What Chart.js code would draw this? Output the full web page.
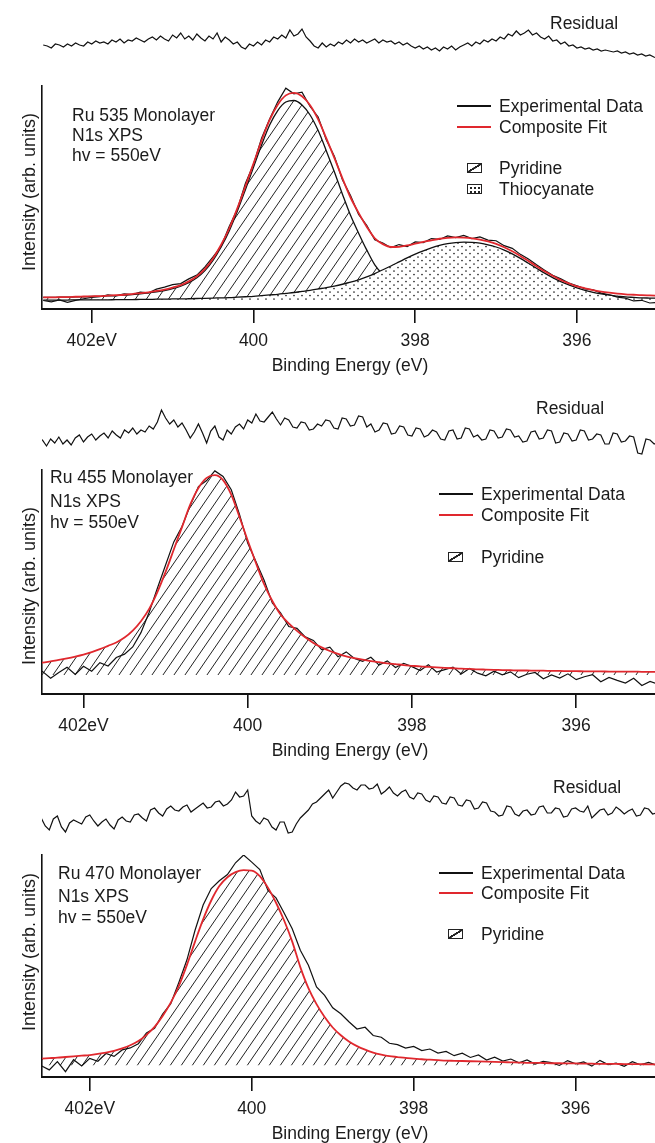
<!DOCTYPE html>
<html>
<head>
<meta charset="utf-8">
<script src="https://cdn.jsdelivr.net/npm/chart.js@4.4.1/dist/chart.umd.min.js"></script>
<style>
  body { margin: 0; background: #fff; }
  #page { position: relative; width: 655px; height: 1143px; overflow: hidden; font-family: 'Liberation Sans', Arial, sans-serif; color: #1b1b1b; }
  canvas { position: absolute; left: 0; }
  .t { position: absolute; font-size: 17.5px; line-height: 20px; white-space: nowrap; }
  .ln { position: absolute; width: 34px; height: 2px; }
  .box { position: absolute; width: 15px; height: 10px; border: 1.5px solid #222; box-sizing: border-box; background: #fff; }
  .hbox { background: linear-gradient(to bottom right, transparent 42%, #222 44%, #222 56%, transparent 58%); }
  .dbox { background-color: #fff; background-image: radial-gradient(circle, #222 0.9px, transparent 1.3px); background-size: 4px 4px; background-position: 1px 1px; }
  .yt { position: absolute; width: 220px; text-align: center; transform: rotate(-90deg); font-size: 18px; line-height: 20px; white-space: nowrap; }
  .xt { position: absolute; left: 200px; width: 300px; text-align: center; font-size: 17.5px; line-height: 20px; }
</style>
</head>
<body>
<div id="page">
  <canvas id="res535" width="655" height="60" style="top:15px"></canvas>
  <canvas id="main535" width="655" height="279" style="top:80px"></canvas>
  <canvas id="res455" width="655" height="60" style="top:406px"></canvas>
  <canvas id="main455" width="655" height="280" style="top:464px"></canvas>
  <canvas id="res470" width="655" height="60" style="top:782px"></canvas>
  <canvas id="main470" width="655" height="278" style="top:849px"></canvas>

  <!-- panel 1 -->
  <div class="t" style="left:550px;top:13px">Residual</div>
  <div class="t" style="left:72px;top:105px">Ru 535 Monolayer</div>
  <div class="t" style="left:72px;top:125px">N1s XPS</div>
  <div class="t" style="left:72px;top:145px">hv = 550eV</div>
  <div class="ln" style="left:457px;top:105px;background:#111"></div>
  <div class="t" style="left:499px;top:96px">Experimental Data</div>
  <div class="ln" style="left:457px;top:126px;background:#e0282e"></div>
  <div class="t" style="left:499px;top:117px">Composite Fit</div>
  <div class="box hbox" style="left:467px;top:163px"></div>
  <div class="t" style="left:499px;top:158px">Pyridine</div>
  <div class="box dbox" style="left:467px;top:184px"></div>
  <div class="t" style="left:499px;top:179px">Thiocyanate</div>
  <div class="yt" style="left:-81px;top:182px">Intensity (arb. units)</div>
  <div class="xt" style="top:355px">Binding Energy (eV)</div>

  <!-- panel 2 -->
  <div class="t" style="left:536px;top:398px">Residual</div>
  <div class="t" style="left:50px;top:467px">Ru 455 Monolayer</div>
  <div class="t" style="left:50px;top:491px">N1s XPS</div>
  <div class="t" style="left:50px;top:512px">hv = 550eV</div>
  <div class="ln" style="left:439px;top:493px;background:#111"></div>
  <div class="t" style="left:481px;top:484px">Experimental Data</div>
  <div class="ln" style="left:439px;top:514px;background:#e0282e"></div>
  <div class="t" style="left:481px;top:505px">Composite Fit</div>
  <div class="box hbox" style="left:448px;top:552px"></div>
  <div class="t" style="left:481px;top:547px">Pyridine</div>
  <div class="yt" style="left:-81px;top:576px">Intensity (arb. units)</div>
  <div class="xt" style="top:740px">Binding Energy (eV)</div>

  <!-- panel 3 -->
  <div class="t" style="left:553px;top:777px">Residual</div>
  <div class="t" style="left:58px;top:863px">Ru 470 Monolayer</div>
  <div class="t" style="left:58px;top:886px">N1s XPS</div>
  <div class="t" style="left:58px;top:907px">hv = 550eV</div>
  <div class="ln" style="left:439px;top:872px;background:#111"></div>
  <div class="t" style="left:481px;top:863px">Experimental Data</div>
  <div class="ln" style="left:439px;top:892px;background:#e0282e"></div>
  <div class="t" style="left:481px;top:883px">Composite Fit</div>
  <div class="box hbox" style="left:448px;top:929px"></div>
  <div class="t" style="left:481px;top:924px">Pyridine</div>
  <div class="yt" style="left:-81px;top:942px">Intensity (arb. units)</div>
  <div class="xt" style="top:1123px">Binding Energy (eV)</div>
</div>

<script>
// binding energy grid (eV) for the spectra and fits
const energy = [
  402.6, 402.5, 402.4, 402.3, 402.2, 402.1, 402.0, 401.9, 401.8, 401.7,
  401.6, 401.5, 401.4, 401.3, 401.2, 401.1, 401.0, 400.9, 400.8, 400.7,
  400.6, 400.5, 400.4, 400.3, 400.2, 400.1, 400.0, 399.9, 399.8, 399.7,
  399.6, 399.5, 399.4, 399.3, 399.2, 399.1, 399.0, 398.9, 398.8, 398.7,
  398.6, 398.5, 398.4, 398.3, 398.2, 398.1, 398.0, 397.9, 397.8, 397.7,
  397.6, 397.5, 397.4, 397.3, 397.2, 397.1, 397.0, 396.9, 396.8, 396.7,
  396.6, 396.5, 396.4, 396.3, 396.2, 396.1, 396.0, 395.9, 395.8, 395.7,
  395.6, 395.5, 395.4, 395.3, 395.2, 395.1, 395.0
];
// finer grid (eV) for the residual traces
const energyFine = [
  402.6, 402.55, 402.5, 402.45, 402.4, 402.35, 402.3, 402.25, 402.2, 402.15,
  402.1, 402.05, 402.0, 401.95, 401.9, 401.85, 401.8, 401.75, 401.7, 401.65,
  401.6, 401.55, 401.5, 401.45, 401.4, 401.35, 401.3, 401.25, 401.2, 401.15,
  401.1, 401.05, 401.0, 400.95, 400.9, 400.85, 400.8, 400.75, 400.7, 400.65,
  400.6, 400.55, 400.5, 400.45, 400.4, 400.35, 400.3, 400.25, 400.2, 400.15,
  400.1, 400.05, 400.0, 399.95, 399.9, 399.85, 399.8, 399.75, 399.7, 399.65,
  399.6, 399.55, 399.5, 399.45, 399.4, 399.35, 399.3, 399.25, 399.2, 399.15,
  399.1, 399.05, 399.0, 398.95, 398.9, 398.85, 398.8, 398.75, 398.7, 398.65,
  398.6, 398.55, 398.5, 398.45, 398.4, 398.35, 398.3, 398.25, 398.2, 398.15,
  398.1, 398.05, 398.0, 397.95, 397.9, 397.85, 397.8, 397.75, 397.7, 397.65,
  397.6, 397.55, 397.5, 397.45, 397.4, 397.35, 397.3, 397.25, 397.2, 397.15,
  397.1, 397.05, 397.0, 396.95, 396.9, 396.85, 396.8, 396.75, 396.7, 396.65,
  396.6, 396.55, 396.5, 396.45, 396.4, 396.35, 396.3, 396.25, 396.2, 396.15,
  396.1, 396.05, 396.0, 395.95, 395.9, 395.85, 395.8, 395.75, 395.7, 395.65,
  395.6, 395.55, 395.5, 395.45, 395.4, 395.35, 395.3, 395.25, 395.2, 395.15,
  395.1, 395.05, 395.0
];
const tickValues = [402, 400, 398, 396];

// Ru 535
const data535 = [
  3.8, 3.2, 4.1, 3.0, 3.9, 4.6, 5.2, 5.5, 6.3, 5.9,
  6.8, 6.5, 7.6, 7.2, 8.9, 9.8, 10.9, 11.4, 13.5, 15.2,
  18.9, 23.4, 28.1, 37.0, 44.6, 56.3, 64.8, 76.6, 85.2, 92.9,
  99.0, 96.5, 97.2, 90.8, 86.1, 75.9, 68.5, 58.0, 50.9, 42.4,
  37.5, 31.0, 29.6, 27.5, 28.9, 28.0, 30.1, 29.8, 31.6, 31.2,
  32.8, 32.0, 33.0, 31.6, 32.3, 30.9, 30.6, 28.4, 27.2, 24.5,
  22.4, 19.8, 17.4, 15.1, 13.5, 11.6, 10.4, 9.0, 8.6, 7.1,
  6.4, 5.3, 4.9, 3.6, 3.9, 2.7, 3.0
];
const fit535 = [
  5.2, 5.2, 5.3, 5.3, 5.5, 5.6, 5.7, 5.8, 6.0, 6.2,
  6.4, 6.7, 7.1, 7.5, 8.1, 8.7, 9.6, 10.7, 12.4, 14.7,
  18.0, 22.7, 28.8, 36.1, 45.1, 55.0, 65.2, 75.5, 84.8, 91.6,
  95.8, 96.9, 95.4, 91.4, 85.0, 76.6, 67.8, 58.6, 50.0, 43.1,
  36.9, 31.7, 29.1, 27.8, 27.9, 28.5, 29.3, 30.1, 30.8, 31.5,
  31.9, 32.1, 32.0, 31.7, 31.1, 30.3, 29.2, 27.7, 25.9, 23.8,
  21.5, 19.2, 16.9, 14.9, 13.0, 11.5, 10.1, 9.3, 8.5, 7.8,
  7.3, 6.9, 6.6, 6.4, 6.2, 6.1, 6.0
];
const pyridine535 = [
  5.2, 5.2, 5.3, 5.3, 5.4, 5.5, 5.6, 5.7, 5.9, 6.0,
  6.2, 6.5, 6.8, 7.2, 7.7, 8.3, 9.1, 10.2, 11.8, 14.0,
  17.2, 21.8, 27.8, 35.0, 43.8, 53.5, 63.5, 73.5, 82.5, 89.0,
  92.8, 93.5, 91.5, 87.0, 80.0, 71.0, 61.5, 51.5, 42.0, 34.0,
  26.5, 19.8, 15.5, 12.5, 10.8, 9.6, 8.7, 8.0, 7.4, 7.0,
  6.6, 6.3, 6.0, 5.8, 5.6, 5.5, 5.4, 5.3, 5.2, 5.1,
  5.0, 4.9, 4.8, 4.8, 4.7, 4.7, 4.6, 4.6, 4.6, 4.5,
  4.5, 4.5, 4.5, 4.4, 4.4, 4.4, 4.4
];
const thiocyanate535 = [
  4.0, 4.0, 4.0, 4.0, 4.1, 4.1, 4.1, 4.1, 4.1, 4.2,
  4.2, 4.2, 4.3, 4.3, 4.4, 4.4, 4.5, 4.5, 4.6, 4.7,
  4.8, 4.9, 5.0, 5.1, 5.3, 5.5, 5.7, 6.0, 6.3, 6.6,
  7.0, 7.4, 7.9, 8.4, 9.0, 9.6, 10.3, 11.1, 12.0, 13.1,
  14.4, 15.9, 17.6, 19.3, 21.1, 22.9, 24.6, 26.1, 27.4, 28.5,
  29.3, 29.8, 30.0, 29.9, 29.5, 28.8, 27.8, 26.4, 24.7, 22.7,
  20.5, 18.3, 16.1, 14.1, 12.3, 10.8, 9.5, 8.4, 7.5, 6.8,
  6.2, 5.8, 5.4, 5.2, 5.0, 4.9, 4.8
];
const residual535 = [
  0, -1, -3, 1, 0, -2, 1, -1, 2, 0,
  -1, 3, 1, 4, 2, 3, 1, 5, 3, 6,
  2, 5, 4, 7, 5, 3, 6, 8, 5, 9,
  6, 4, 10, 7, 12, 6, 9, 5, 11, 7,
  4, 9, 6, 12, 3, 8, 5, 1, 3, -2,
  -4, 1, -1, 3, 0, 5, 3, 8, 6, 10,
  7, 15, 9, 11, 16, 8, 4, -1, -3, 2,
  -2, 1, -1, 3, 1, 5, 2, 6, 3, 5,
  2, 4, 6, 2, 5, 3, 4, 1, 3, 0,
  2, -1, -3, -1, -4, -2, -5, -3, -6, -2,
  -4, -1, -5, -2, 0, 2, -1, 3, 1, 5,
  3, 6, 4, 8, 6, 11, 9, 14, 10, 12,
  15, 10, 12, 8, 6, 9, 4, 5, 1, 3,
  -1, 0, -3, -2, -4, -3, -5, -4, -6, -5,
  -6, -7, -6, -8, -7, -9, -8, -10, -9, -11,
  -10, -12, -13
];

// Ru 455
const data455 = [
  8.4, 10.1, 7.0, 9.6, 11.9, 8.7, 12.4, 10.2, 14.0, 12.5,
  16.3, 17.8, 21.0, 27.4, 36.5, 47.2, 57.6, 67.9, 74.8, 84.1,
  92.6, 95.3, 99.6, 97.1, 91.2, 80.2, 67.4, 59.1, 50.8, 40.6,
  36.2, 30.1, 29.3, 25.5, 23.9, 19.8, 20.9, 16.6, 18.8, 15.9,
  14.6, 16.4, 12.9, 14.8, 11.8, 13.7, 12.2, 10.5, 13.1, 9.8,
  10.9, 12.0, 8.9, 11.4, 9.3, 8.1, 10.2, 8.6, 9.9, 7.3,
  8.8, 9.6, 6.8, 8.5, 7.1, 9.0, 6.4, 7.7, 8.6, 5.5,
  7.4, 6.1, 4.9, 7.0, 3.8, 5.6, 4.4
];
const fit455 = [
  13.7, 14.0, 14.6, 15.2, 15.9, 16.7, 17.6, 18.7, 20.0, 21.5,
  23.0, 25.2, 28.3, 32.5, 38.0, 45.5, 54.5, 64.5, 74.5, 84.5,
  92.0, 96.5, 97.7, 95.5, 89.0, 79.0, 68.5, 58.5, 49.0, 41.5,
  35.5, 31.5, 28.2, 25.3, 22.8, 20.8, 19.2, 17.9, 16.8, 16.0,
  15.3, 14.7, 14.2, 13.7, 13.3, 12.9, 12.6, 12.3, 12.1, 11.9,
  11.7, 11.5, 11.3, 11.2, 11.0, 10.9, 10.8, 10.7, 10.6, 10.5,
  10.5, 10.4, 10.4, 10.3, 10.3, 10.2, 10.2, 10.1, 10.1, 10.1,
  10.0, 10.0, 10.0, 10.0, 9.9, 9.9, 9.9
];
const residual455 = [
  -6, -2, -4, -10, -3, -7, -1, -8, -4, -9,
  -2, 1, -6, -1, 2, -4, 0, 3, -2, 5,
  1, -2, 6, 3, 8, 2, 6, 4, 10, 7,
  14, 26, 18, 12, 16, 9, 13, 6, -2, 4,
  12, 3, -7, 5, 10, -1, -4, 6, 2, 9,
  12, 7, 16, 13, 22, 15, 14, 19, 24, 17,
  11, 18, 16, 9, 8, 14, 13, 6, 7, 12,
  10, 16, 15, 8, 7, 18, 17, 10, 11, 20,
  19, 9, 12, 4, 6, 13, 12, 2, 3, 10,
  9, 1, 0, 8, 7, -1, 1, 6, 4, -3,
  -4, 5, 6, -3, -2, 8, 7, -1, 1, -4,
  -3, 6, 5, -2, -1, 7, 6, -1, 0, -6,
  -5, 4, 5, -3, -2, 6, 5, -7, -6, 3,
  2, -5, -4, 6, 5, -4, -3, 2, 1, -8,
  -8, 3, 2, -6, -5, 0, -1, -17, -18, -3,
  -4, -8, -6
];

// Ru 470
const data470 = [
  5.1, 3.2, 6.9, 2.4, 7.8, 5.0, 8.4, 7.1, 10.6, 9.3,
  12.2, 13.1, 15.0, 19.8, 21.9, 28.3, 33.0, 42.6, 52.8, 66.1,
  77.5, 84.9, 88.4, 91.2, 96.5, 100.0, 96.8, 93.4, 84.0, 80.7,
  73.9, 66.8, 57.1, 50.3, 40.6, 36.8, 31.2, 28.5, 24.9, 21.6,
  22.4, 18.7, 17.9, 15.2, 14.6, 13.0, 13.8, 11.9, 12.6, 10.8,
  11.5, 9.6, 10.7, 8.8, 9.9, 7.6, 8.9, 7.2, 8.1, 6.4,
  7.7, 5.8, 7.0, 6.5, 5.2, 7.4, 5.9, 6.8, 4.9, 7.5,
  5.6, 6.2, 4.8, 6.9, 5.5, 6.6, 5.3
];
const fit470 = [
  8.3, 8.5, 8.7, 9.0, 9.3, 9.6, 9.9, 10.4, 11.0, 11.8,
  12.9, 14.3, 16.2, 19.0, 22.6, 27.5, 33.5, 41.0, 50.5, 61.0,
  71.0, 79.5, 86.0, 90.0, 92.3, 93.2, 93.0, 90.5, 85.3, 78.5,
  70.5, 61.0, 49.5, 40.0, 32.8, 27.0, 22.3, 18.8, 16.0, 13.9,
  12.3, 11.0, 10.1, 9.4, 9.0, 8.6, 8.3, 8.0, 7.8, 7.6,
  7.4, 7.3, 7.2, 7.1, 7.0, 6.9, 6.8, 6.7, 6.6, 6.5,
  6.4, 6.4, 6.3, 6.2, 6.2, 6.1, 6.1, 6.0, 6.0, 5.9,
  5.9, 5.9, 5.8, 5.8, 5.8, 5.7, 5.7
];
const residual470 = [
  -6, -14, -18, -7, -4, -15, -20, -11, -8, -10,
  -12, -5, -3, -9, -14, -10, -7, -13, -17, -8,
  -5, -9, -10, -3, -2, -6, -9, 2, 4, -1,
  -4, 3, 6, 2, 1, 5, 7, 0, 3, 6,
  9, 4, 5, 10, 11, 6, 8, 12, 20, 15,
  16, 22, -4, -9, -12, -6, -8, -15, -18, -10,
  -10, -21, -20, -12, -6, -2, 2, 8, 10, 14,
  18, 22, 14, 20, 26, 29, 28, 24, 22, 27,
  27, 23, 24, 28, 18, 21, 25, 19, 16, 20,
  22, 15, 13, 19, 18, 12, 10, 16, 15, 9,
  8, 15, 14, 7, 6, 12, 11, 3, 4, 10,
  9, 1, 0, -4, -3, 6, 5, -2, -4, 1,
  2, -3, -2, 5, 6, -1, -1, 4, 3, -5,
  -4, 3, 4, 1, 0, 6, -6, -2, 2, 3,
  -3, -1, 5, 2, -2, 1, 3, -4, -3, 4,
  3, -2, -1
];

Chart.defaults.font.family = "'Liberation Sans', Arial, sans-serif";
Chart.defaults.color = '#1b1b1b';

const RED = '#e0282e';
const INK = '#111';

const pts = (vals, grid = energy) => grid.map((e, i) => ({ x: e, y: vals[i] }));

// fill patterns for the fitted components
function hatchPattern() {
  const w = 11, h = 16;
  const c = document.createElement('canvas');
  c.width = w; c.height = h;
  const g = c.getContext('2d');
  g.strokeStyle = '#222';
  g.lineWidth = 1;
  for (let k = -1; k <= 1; k++) {
    g.beginPath();
    g.moveTo(k * w - 1, h + h / w);
    g.lineTo(k * w + w + 1, -h / w);
    g.stroke();
  }
  return g.createPattern(c, 'repeat');
}

function dotPattern() {
  const c = document.createElement('canvas');
  c.width = 8; c.height = 7;
  const g = c.getContext('2d');
  g.fillStyle = '#fff';
  g.fillRect(0, 0, 8, 7);
  g.fillStyle = '#222';
  [[2, 2], [6, 5.5]].forEach(([x, y]) => {
    g.beginPath();
    g.arc(x, y, 0.85, 0, Math.PI * 2);
    g.fill();
  });
  return g.createPattern(c, 'repeat');
}

const hatch = hatchPattern();
const dots = dotPattern();

function mainChart(id, minX, maxX, datasets) {
  return new Chart(document.getElementById(id), {
    type: 'line',
    data: { datasets },
    options: {
      responsive: false,
      animation: false,
      events: [],
      layout: { padding: { left: 42, right: 0, top: 6, bottom: 0 } },
      plugins: { legend: { display: false }, tooltip: { enabled: false } },
      elements: { point: { radius: 0 }, line: { tension: 0 } },
      scales: {
        x: {
          type: 'linear',
          reverse: true,
          min: minX,
          max: maxX,
          afterBuildTicks: (s) => { s.ticks = tickValues.map((v) => ({ value: v })); },
          afterFit: (s) => { s.height = 50; },
          ticks: {
            callback: (v) => (v === 402 ? '402eV' : String(v)),
            font: { size: 17.5 },
            color: '#1b1b1b',
            padding: 8,
            maxRotation: 0,
            autoSkip: false
          },
          grid: { drawOnChartArea: false, drawTicks: true, tickLength: 14, color: INK, lineWidth: 1.6 },
          border: { display: true, color: INK, width: 2 }
        },
        y: {
          min: 0,
          max: 100,
          ticks: { display: false },
          grid: { drawOnChartArea: false, drawTicks: false },
          border: { display: true, color: INK, width: 1.6 },
          afterFit: (s) => { s.width = 0; }
        }
      }
    }
  });
}

function residualChart(id, minX, maxX, vals) {
  return new Chart(document.getElementById(id), {
    type: 'line',
    data: { datasets: [{ data: pts(vals, energyFine), borderColor: INK, borderWidth: 1.2, pointRadius: 0 }] },
    options: {
      responsive: false,
      animation: false,
      events: [],
      layout: { padding: { left: 42, right: 0, top: 0, bottom: 0 } },
      plugins: { legend: { display: false }, tooltip: { enabled: false } },
      scales: {
        x: { type: 'linear', reverse: true, min: minX, max: maxX, display: false },
        y: { min: -30, max: 30, display: false }
      }
    }
  });
}

// panel 1: Ru 535, two components
residualChart('res535', 395.035, 402.615, residual535);
mainChart('main535', 395.035, 402.615, [
  { data: pts(fit535), borderColor: RED, borderWidth: 1.8, fill: false, order: 0, cubicInterpolationMode: 'monotone' },
  { data: pts(data535), borderColor: INK, borderWidth: 1.2, fill: false, order: 1 },
  { data: pts(thiocyanate535), borderColor: INK, borderWidth: 1.3, fill: { value: 4 }, backgroundColor: dots, order: 2, cubicInterpolationMode: 'monotone' },
  { data: pts(pyridine535), borderColor: INK, borderWidth: 1.3, fill: { value: 4 }, backgroundColor: hatch, order: 3, cubicInterpolationMode: 'monotone' }
]);

// panel 2: Ru 455, single pyridine component (same curve as the fit)
residualChart('res455', 395.04, 402.505, residual455);
mainChart('main455', 395.04, 402.505, [
  { data: pts(fit455), borderColor: RED, borderWidth: 1.8, fill: false, order: 0, cubicInterpolationMode: 'monotone' },
  { data: pts(data455), borderColor: INK, borderWidth: 1.2, fill: false, order: 1 },
  { data: pts(fit455), borderColor: 'rgba(0,0,0,0)', borderWidth: 0, fill: { value: 8.5 }, backgroundColor: hatch, order: 2, cubicInterpolationMode: 'monotone' }
]);

// panel 3: Ru 470
residualChart('res470', 395.02, 402.59, residual470);
mainChart('main470', 395.02, 402.59, [
  { data: pts(fit470), borderColor: RED, borderWidth: 1.8, fill: false, order: 0, cubicInterpolationMode: 'monotone' },
  { data: pts(data470), borderColor: INK, borderWidth: 1.2, fill: false, order: 1 },
  { data: pts(fit470), borderColor: 'rgba(0,0,0,0)', borderWidth: 0, fill: { value: 5.3 }, backgroundColor: hatch, order: 2, cubicInterpolationMode: 'monotone' }
]);
</script>
</body>
</html>
